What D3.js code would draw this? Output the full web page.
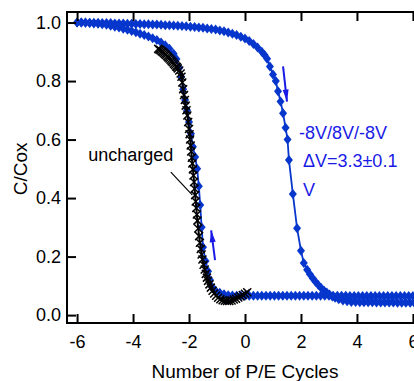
<!DOCTYPE html>
<meta charset="utf-8">
<script src="https://d3js.org/d3.v7.min.js"></script>
<style>
  body { margin: 0; background: #fff; }
  text { font-family: "Liberation Sans", Arial, sans-serif; }
</style>
<div id="chart"></div>
<script>
// ---- data ----
// blue, sweep toward positive side (upper curve that drops at ~+1.5)
var fwdX = [-6.00,-5.85,-5.70,-5.55,-5.40,-5.25,-5.10,-4.95,-4.80,-4.65,-4.50,-4.35,-4.20,-4.05,-3.90,-3.75,-3.60,-3.45,-3.30,-3.15,
            -3.00,-2.85,-2.70,-2.55,-2.40,-2.25,-2.10,-1.95,-1.80,-1.65,-1.50,-1.35,-1.20,-1.05,-0.90,-0.75,-0.60,-0.45,-0.30,-0.15,
            0.00,0.15,0.30,0.45,0.60,0.70,0.79,0.89,1.00,1.10,1.18,1.27,1.36,1.45,1.52,1.57,1.71,1.86,2.00,2.10,
            2.22,2.32,2.42,2.52,2.62,2.72,2.82,2.92,3.02,3.12,3.22,3.35,3.50,3.65,
            3.80,3.95,4.10,4.25,4.40,4.55,4.70,4.85,5.00,5.15,5.30,5.45,5.60,5.75,5.90,6.05,6.20,6.35];
var fwdY = [1.000,1.000,1.000,0.999,0.999,0.999,0.998,0.998,0.998,0.997,0.997,0.997,0.996,0.996,0.995,0.995,0.994,0.994,0.993,0.993,
            0.992,0.991,0.991,0.990,0.989,0.988,0.987,0.986,0.985,0.983,0.982,0.980,0.978,0.976,0.973,0.970,0.966,0.962,0.957,0.951,
            0.945,0.937,0.927,0.915,0.900,0.889,0.876,0.850,0.822,0.800,0.765,0.730,0.690,0.640,0.600,0.530,0.414,0.297,0.220,0.178,
            0.155,0.140,0.126,0.114,0.103,0.093,0.084,0.077,0.070,0.064,0.059,0.054,0.050,0.047,
            0.045,0.045,0.044,0.044,0.044,0.044,0.043,0.043,0.043,0.043,0.043,0.042,0.042,0.042,0.042,0.042,0.042,0.042];

// blue, sweep back toward negative side (lower curve that rises at ~-1.7)
var retX = [-6.00,-5.85,-5.70,-5.55,-5.40,-5.25,-5.10,-4.95,-4.80,-4.65,-4.50,-4.35,-4.20,-4.05,-3.90,-3.75,-3.60,-3.45,-3.30,-3.15,
            -3.00,-2.85,-2.70,-2.55,-2.45,-2.35,-2.28,-2.21,-2.14,-2.07,-2.00,-1.93,-1.86,-1.78,-1.71,-1.65,-1.60,-1.55,-1.50,-1.41,
            -1.32,-1.25,-1.18,-1.05,-0.90,-0.75,-0.60,-0.45,
            -0.30,-0.15,0.00,0.15,0.30,0.45,0.60,0.75,0.90,1.05,1.20,1.35,1.50,1.65,1.80,1.95,2.10,2.25,2.40,2.55,
            2.70,2.85,3.00,3.15,3.30,3.45,3.60,3.75,3.90,4.05,4.20,4.35,4.50,4.65,4.80,4.95,5.10,5.25,5.40,5.55,
            5.70,5.85,6.00,6.15,6.30];
var retY = [1.000,1.000,0.999,0.998,0.997,0.996,0.994,0.992,0.989,0.986,0.983,0.979,0.975,0.971,0.967,0.962,0.957,0.952,0.946,0.940,
            0.932,0.922,0.910,0.893,0.875,0.845,0.815,0.772,0.735,0.700,0.660,0.620,0.575,0.540,0.500,0.440,0.376,0.300,0.232,0.185,
            0.150,0.120,0.097,0.083,0.076,0.071,0.068,0.067,
            0.066,0.066,0.066,0.066,0.066,0.066,0.066,0.066,0.066,0.066,0.066,0.066,0.066,0.066,0.066,0.066,0.066,0.066,0.066,0.066,
            0.066,0.066,0.066,0.066,0.066,0.066,0.066,0.065,0.065,0.065,0.065,0.065,0.065,0.065,0.065,0.065,0.065,0.065,0.065,0.065,
            0.065,0.065,0.065,0.065,0.065];

// black, uncharged device
var uncX = [-3.10,-3.06,-3.02,-2.98,-2.94,-2.90,-2.86,-2.82,-2.78,-2.74,-2.70,-2.66,-2.62,-2.58,-2.54,-2.50,-2.46,-2.43,-2.40,-2.35,
            -2.30,-2.27,-2.24,-2.21,-2.18,-2.15,-2.12,-2.09,-2.06,
            -2.03,-2.00,-1.98,-1.96,-1.94,-1.92,-1.90,-1.88,-1.86,-1.84,-1.82,-1.80,-1.78,-1.76,-1.74,-1.72,-1.70,-1.67,-1.64,-1.61,
            -1.58,-1.55,-1.52,-1.48,-1.44,-1.40,-1.36,-1.32,-1.27,-1.22,-1.16,-1.10,-1.03,-0.96,-0.88,-0.80,-0.72,-0.64,-0.56,-0.48,
            -0.40,-0.32,-0.24,-0.16,-0.08,0.00,0.08];
var uncY = [0.910,0.908,0.905,0.902,0.899,0.896,0.892,0.889,0.885,0.881,0.877,0.873,0.868,0.864,0.859,0.855,0.850,0.847,0.843,0.836,
            0.826,0.815,0.795,0.772,0.752,0.735,0.716,0.700,0.682,
            0.660,0.636,0.618,0.600,0.580,0.559,0.538,0.518,0.498,0.477,0.455,0.432,0.410,0.388,0.366,0.344,0.323,0.296,0.270,0.247,
            0.226,0.207,0.190,0.172,0.156,0.141,0.128,0.117,0.105,0.094,0.083,0.074,0.066,0.059,0.054,0.051,0.049,0.048,0.048,0.050,
            0.053,0.056,0.060,0.064,0.069,0.073,0.078];

var xTicks = [-6, -4, -2, 0, 2, 4, 6];
var yTicks = [0.0, 0.2, 0.4, 0.6, 0.8, 1.0];

var blue = "#0636cc", textBlue = "#1a1ae6";

var W = 414, H = 381;
var mLeft = 67, mRight = 423, mTop = 12, mBottom = 323;

var svg = d3.select("#chart").append("svg")
    .attr("width", W).attr("height", H);

var x = d3.scaleLinear().domain([-6.36, 6.36]).range([mLeft, mRight]);
var y = d3.scaleLinear().domain([-0.027, 1.036]).range([mBottom, mTop]);

svg.append("clipPath").attr("id", "clip")
  .append("rect").attr("x", mLeft).attr("y", mTop)
    .attr("width", mRight - mLeft).attr("height", mBottom - mTop);

var plot = svg.append("g").attr("clip-path", "url(#clip)");

var line = d3.line().x(d => x(d[0])).y(d => y(d[1]));
var diamond = "M0,-5L4,0L0,5L-4,0Z";

function blueSeries(xs, ys) {
  var pts = xs.map((v, i) => [v, ys[i]]);
  plot.append("path").datum(pts)
      .attr("d", line)
      .attr("fill", "none").attr("stroke", blue).attr("stroke-width", 1.8);
  plot.append("g").selectAll("path")
    .data(pts).enter().append("path")
      .attr("d", diamond)
      .attr("transform", d => "translate(" + x(d[0]) + "," + y(d[1]) + ")")
      .attr("fill", blue);
}
blueSeries(fwdX, fwdY);
blueSeries(retX, retY);

// uncharged curve: line + x markers
var uncPts = uncX.map((v, i) => [v, uncY[i]]);
plot.append("path").datum(uncPts)
    .attr("d", line)
    .attr("fill", "none").attr("stroke", "#000").attr("stroke-width", 2);
plot.append("g").selectAll("path")
  .data(uncPts).enter().append("path")
    .attr("d", "M-4,-4L4,4M-4,4L4,-4")
    .attr("transform", d => "translate(" + x(d[0]) + "," + y(d[1]) + ")")
    .attr("stroke", "#000").attr("stroke-width", 1.5);

// axes (ticks inward on all four sides)
function styleAxis(g) {
  g.select(".domain").remove();
  g.selectAll(".tick line").attr("stroke", "#000").attr("stroke-width", 2);
  g.selectAll("text").attr("fill", "#000").style("font-size", "18px")
    .style("font-family", "'Liberation Sans', Arial, sans-serif");
}
svg.append("g").attr("transform", "translate(0," + mBottom + ")")
  .call(d3.axisBottom(x).tickValues(xTicks).tickSizeInner(-9).tickSizeOuter(0).tickPadding(12)
          .tickFormat(d => String(d)))
  .call(styleAxis);
svg.append("g").attr("transform", "translate(0," + mTop + ")")
  .call(d3.axisTop(x).tickValues(xTicks).tickSizeInner(-9).tickSizeOuter(0).tickFormat(""))
  .call(styleAxis);
svg.append("g").attr("transform", "translate(" + mLeft + ",0)")
  .call(d3.axisLeft(y).tickValues(yTicks).tickSizeInner(-9).tickSizeOuter(0).tickPadding(6)
          .tickFormat(d3.format(".1f")))
  .call(styleAxis);
svg.append("g").attr("transform", "translate(" + mRight + ",0)")
  .call(d3.axisRight(y).tickValues(yTicks).tickSizeInner(-9).tickSizeOuter(0).tickFormat(""))
  .call(styleAxis);

svg.append("rect")
    .attr("x", mLeft).attr("y", mTop)
    .attr("width", mRight - mLeft).attr("height", mBottom - mTop)
    .attr("fill", "none").attr("stroke", "#000").attr("stroke-width", 2);

// axis titles
svg.append("text")
    .attr("x", x(0)).attr("y", 378)
    .attr("text-anchor", "middle").style("font-size", "19px")
    .text("Number of P/E Cycles");
svg.append("text")
    .attr("transform", "translate(27," + y(0.5) + ") rotate(-90)")
    .attr("text-anchor", "middle").style("font-size", "19px")
    .text("C/Cox");

// annotations
svg.append("text")
    .attr("x", x(-5.6)).attr("y", y(0.526))
    .style("font-size", "18px").attr("fill", "#000")
    .text("uncharged");
svg.append("line")
    .attr("x1", x(-2.65)).attr("y1", y(0.489))
    .attr("x2", x(-1.88)).attr("y2", y(0.41))
    .attr("stroke", "#000").attr("stroke-width", 1.2);

var blueText = svg.append("g").attr("fill", textBlue).style("font-size", "18px");
blueText.append("text").attr("x", x(1.93)).attr("y", y(0.602)).text("-8V/8V/-8V");
blueText.append("text").attr("x", x(2.07)).attr("y", y(0.506)).text("\u0394V=3.3\u00b10.1");
blueText.append("text").attr("x", x(2.07)).attr("y", y(0.407)).text("V");

// direction arrows
function arrow(x1, y1, x2, y2) {
  var px1 = x(x1), py1 = y(y1), px2 = x(x2), py2 = y(y2);
  var a = Math.atan2(py2 - py1, px2 - px1) * 180 / Math.PI;
  svg.append("line")
      .attr("x1", px1).attr("y1", py1).attr("x2", px2).attr("y2", py2)
      .attr("stroke", textBlue).attr("stroke-width", 2);
  svg.append("path")
      .attr("d", "M0,0L-12,-3L-12,3Z")
      .attr("transform", "translate(" + px2 + "," + py2 + ") rotate(" + a + ")")
      .attr("fill", textBlue);
}
arrow(1.36, 0.85, 1.5, 0.73);
arrow(-1.07, 0.188, -1.21, 0.29);
</script>
